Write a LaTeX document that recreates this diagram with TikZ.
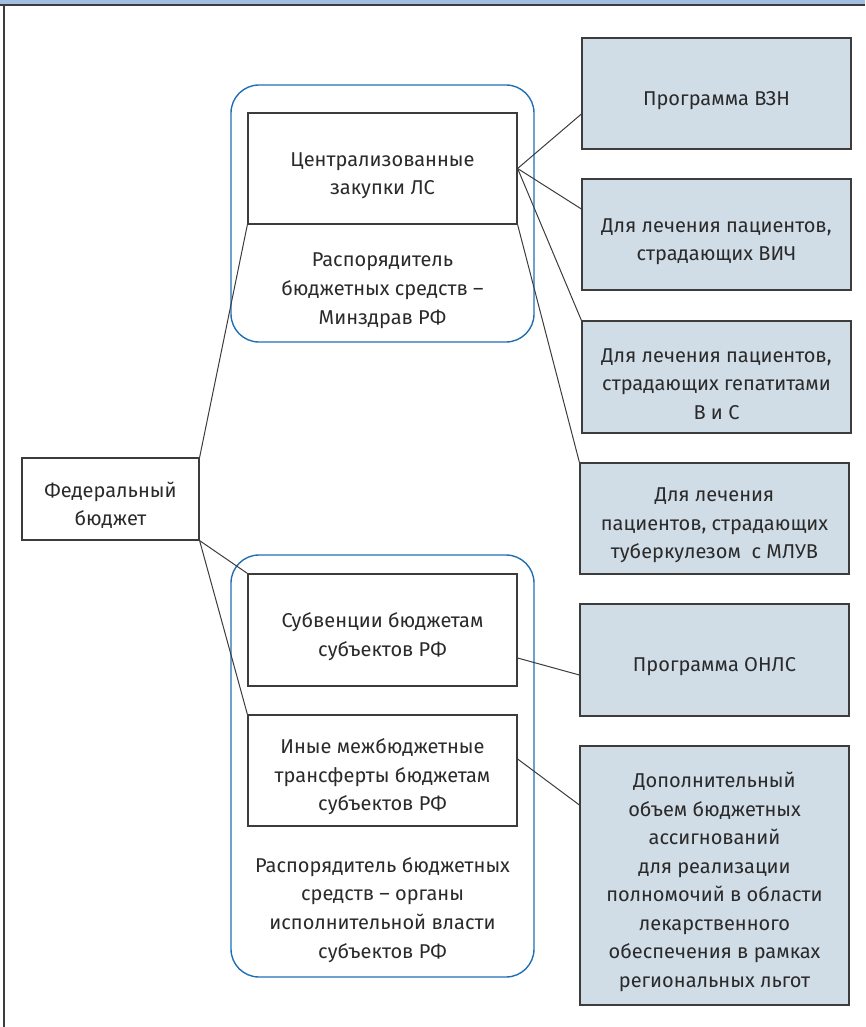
\documentclass[tikz,border=0pt]{standalone}
\usepackage{fontspec}
\setmainfont{Fira Sans}
\definecolor{boxfill}{HTML}{D0DCE6}
\definecolor{boxline}{HTML}{3C3C3C}
\definecolor{grpline}{HTML}{1F6FB5}
\definecolor{txt}{HTML}{2A2A2A}
\definecolor{band}{HTML}{A4BEDD}
\newcommand{\toppad}{\rule{0pt}{28pt}}
\tikzset{
  base/.style={rectangle, draw=boxline, line width=1.2pt, text=txt, align=center,
    inner sep=2pt, font=\fontsize{20}{28.5}\selectfont},
  whitebox/.style={base, fill=white},
  bluebox/.style={base, fill=boxfill},
  grp/.style={draw=grpline, line width=1.4pt, rounded corners=28pt},
  conn/.style={draw=boxline, line width=1pt},
  plain/.style={text=txt, align=center, font=\fontsize{20}{28.8}\selectfont}
}
\begin{document}
\begin{tikzpicture}[x=1pt,y=-1pt]
\useasboundingbox (0,0) rectangle (865,1027);
% frame
\fill[band] (0,0) rectangle (865,4.5);
\draw[boxline, line width=1.4pt] (0,5) -- (865,5);
\draw[boxline, line width=1.4pt] (4,5) -- (4,1027);
% groups
\draw[grp] (231,85) rectangle (534,342);
\draw[grp] (231,555) rectangle (534,977);
% nodes
\node[whitebox, minimum width=177pt, minimum height=82pt] (fed) at (110.5,499) {\toppad Федеральный\\бюджет};
\node[whitebox, minimum width=269pt, minimum height=111pt] (central) at (382.5,168.5) {\toppad Централизованные\\закупки ЛС};
\node[plain] (minz) at (382.5,291) {Распорядитель\\бюджетных средств –\\Минздрав РФ};
\node[whitebox, minimum width=269pt, minimum height=112pt] (sub) at (382.5,630) {\toppad Субвенции бюджетам\\субъектов РФ};
\node[whitebox, minimum width=269pt, minimum height=111pt] (inye) at (382.5,770.5) {\toppad Иные межбюджетные\\трансферты бюджетам\\субъектов РФ};
\node[plain] (organy) at (382.5,910) {Распорядитель бюджетных\\средств – органы\\исполнительной власти\\субъектов РФ};
\node[bluebox, minimum width=269pt, minimum height=111pt] (vzn) at (716.5,93.5) {\toppad Программа ВЗН};
\node[bluebox, minimum width=269pt, minimum height=111pt] (vich) at (716.5,234.5) {\toppad Для лечения пациентов,\\страдающих ВИЧ};
\node[bluebox, minimum width=269pt, minimum height=112pt] (gep) at (716.5,377) {\toppad Для лечения пациентов,\\страдающих гепатитами\\В и С};
\node[bluebox, minimum width=269pt, minimum height=111pt] (tub) at (714.5,518.5) {\toppad Для лечения\\пациентов, страдающих\\туберкулезом~ с МЛУВ};
\node[bluebox, minimum width=269pt, minimum height=112pt] (onls) at (714.5,660) {\toppad Программа ОНЛС};
\node[bluebox, minimum width=269pt, minimum height=259pt] (add) at (714.5,875.5) {\toppad Дополнительный\\объем бюджетных\\ассигнований\\для реализации\\полномочий в области\\лекарственного\\обеспечения в рамках\\региональных льгот};
% connectors
\draw[conn] (fed.north east) -- (central.south west);
\draw[conn] (fed.south east) -- (sub.north west);
\draw[conn] (fed.south east) -- (inye.north west);
\draw[conn] (central.east) -- ([yshift=-20.5pt]vzn.west);
\draw[conn] (central.east) -- ([yshift=25.5pt]vich.west);
\draw[conn] (central.east) -- (gep.north west);
\draw[conn] (central.south east) -- (tub.north west);
\draw[conn] ([yshift=-28pt]sub.east) -- ([yshift=-15pt]onls.west);
\draw[conn] ([yshift=11.5pt]inye.east) -- ([yshift=70.5pt]add.west);
\end{tikzpicture}
\end{document}
